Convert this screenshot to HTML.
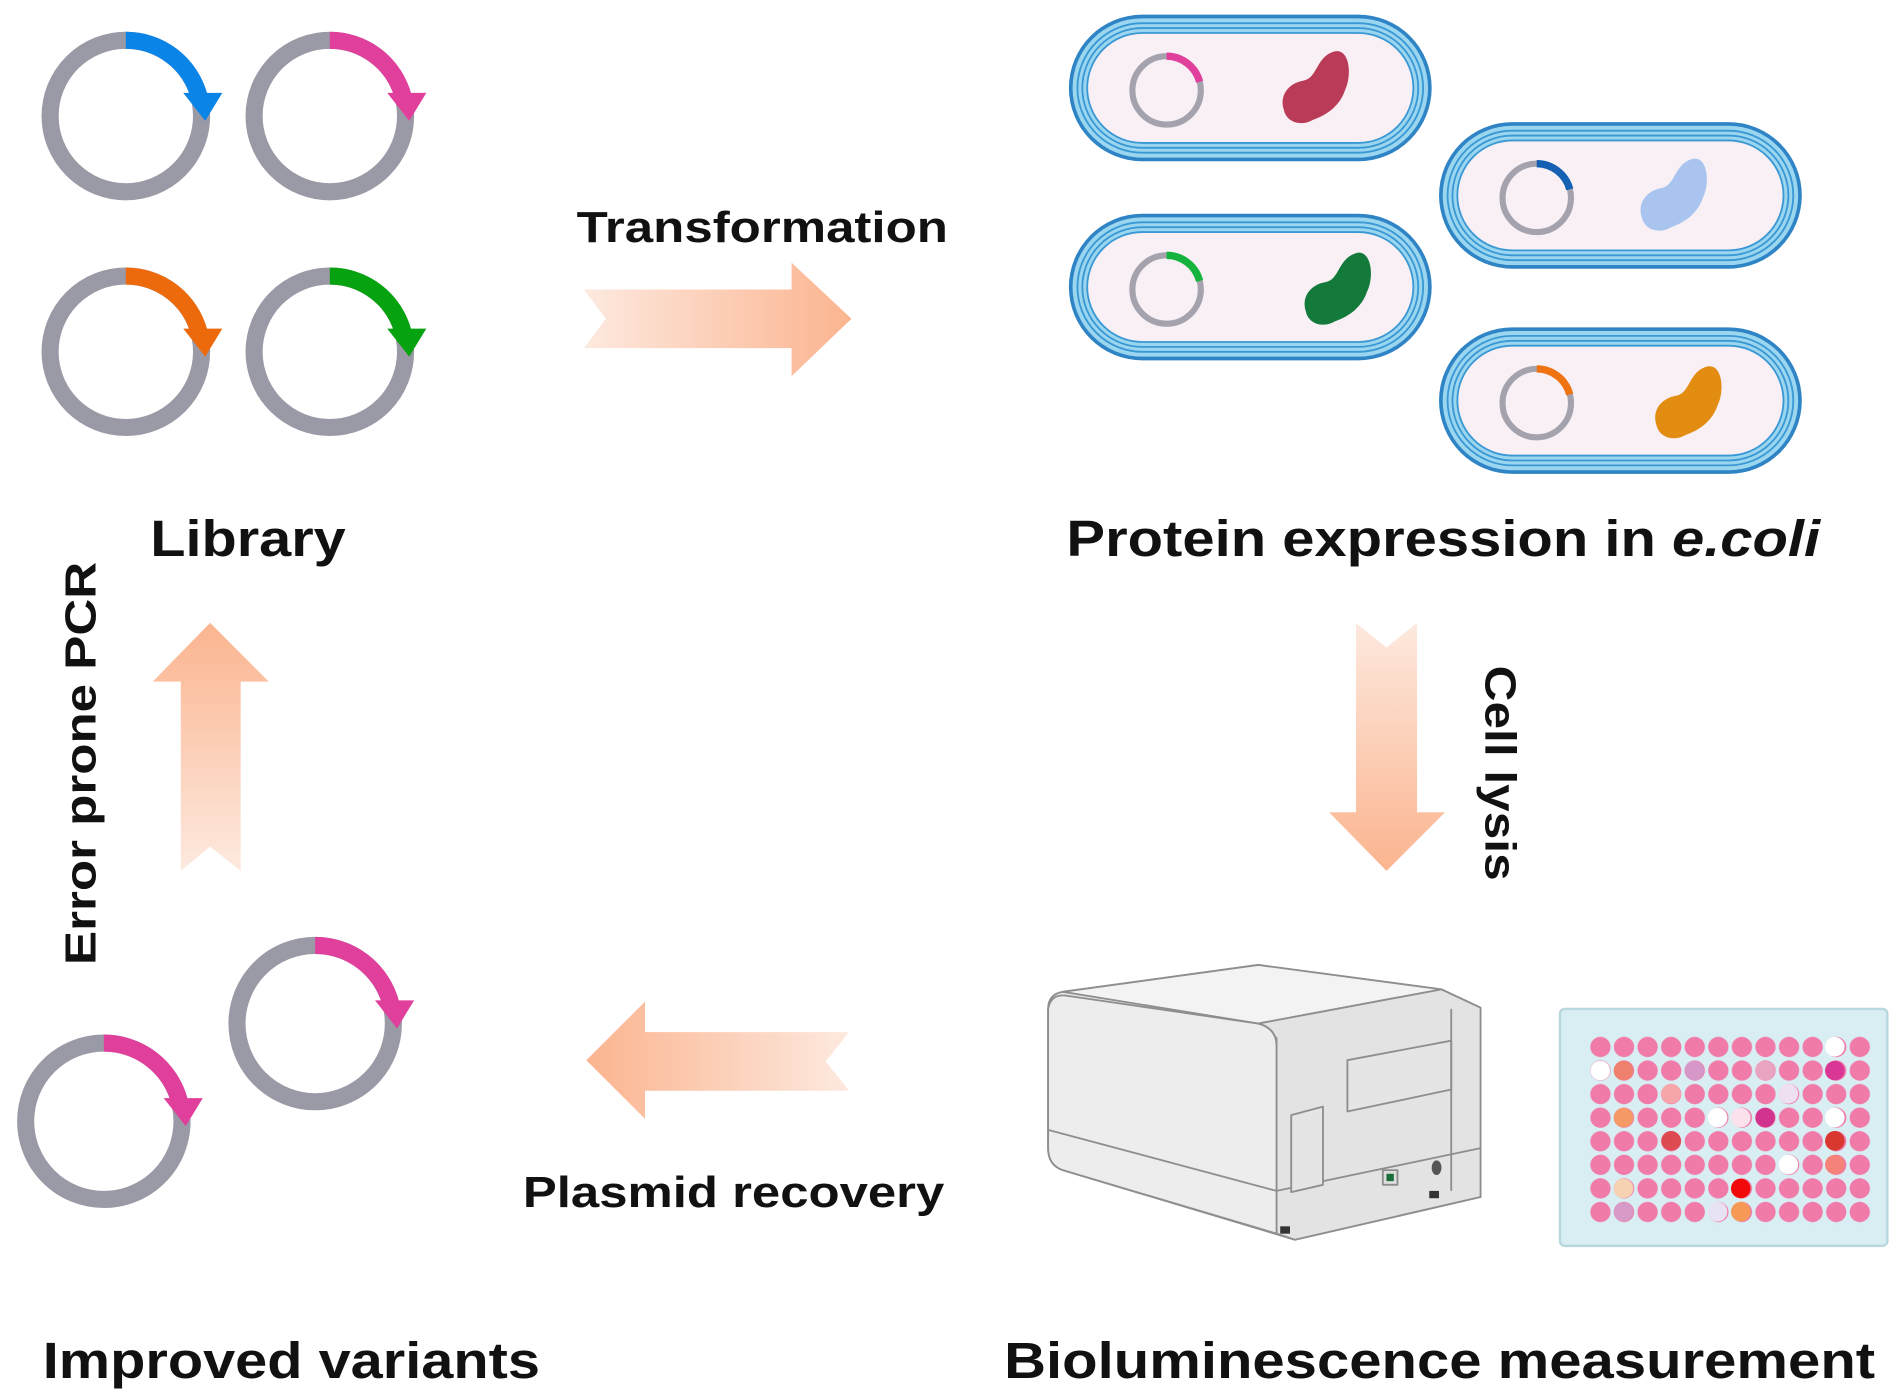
<!DOCTYPE html>
<html><head><meta charset="utf-8"><style>
html,body{margin:0;padding:0;background:#fff;}
svg{display:block;}
text{font-family:"Liberation Sans",Arial,sans-serif;font-weight:bold;fill:#111;}
</style></head><body>
<svg width="1891" height="1390" viewBox="0 0 1548 1138" preserveAspectRatio="none" xmlns="http://www.w3.org/2000/svg">
<defs>
<linearGradient id="gR" x1="0" x2="1" y1="0" y2="0"><stop offset="0" stop-color="#fde9df"/><stop offset="1" stop-color="#fbb48f"/></linearGradient>
<linearGradient id="gL" x1="1" x2="0" y1="0" y2="0"><stop offset="0" stop-color="#fde9df"/><stop offset="1" stop-color="#fbb48f"/></linearGradient>
<linearGradient id="gD" x1="0" x2="0" y1="0" y2="1"><stop offset="0" stop-color="#fde9df"/><stop offset="1" stop-color="#fbb48f"/></linearGradient>
<linearGradient id="gU" x1="0" x2="0" y1="1" y2="0"><stop offset="0" stop-color="#fde9df"/><stop offset="1" stop-color="#fbb48f"/></linearGradient>
<pattern id="wells" x="1300.5" y="847.5" width="19.3" height="19.3" patternUnits="userSpaceOnUse">
<circle cx="9.65" cy="9.65" r="8.3" fill="#f07aa8"/></pattern>
<g id="cell">
<rect x="0" y="0" width="297" height="120" rx="60" fill="#2f84c6"/>
<rect x="3" y="3" width="291" height="114" rx="57" fill="#9ad6ef"/>
<rect x="7" y="7" width="283" height="106" rx="53" fill="none" stroke="#3a98d4" stroke-width="1.5"/>
<rect x="11" y="11" width="275" height="98" rx="49" fill="none" stroke="#3a98d4" stroke-width="1.5"/>
<rect x="15" y="15" width="267" height="90" rx="45" fill="#f8f0f5" stroke="#3a98d4" stroke-width="1.5"/>
<circle cx="80" cy="62" r="28" fill="none" stroke="#a3a2ad" stroke-width="5"/>
</g>
<path id="blob" d="M28,-30 C40,-32 42,-10 36,2 C32,14 22,22 10,26 C0,32 -12,28 -14,18 C-18,6 -10,-4 2,-6 C14,-8 12,-26 28,-30 Z"/>
</defs>

<!-- Library plasmids -->
<g fill="none" stroke-width="14">
<circle cx="103" cy="95" r="62" stroke="#9a99a6"/>
<path d="M103,33 A62,62 0 0 1 163,79" stroke="#0b84e8"/>
<circle cx="270" cy="95" r="62" stroke="#9a99a6"/>
<path d="M270,33 A62,62 0 0 1 330,79" stroke="#e03f9c"/>
<circle cx="103" cy="288" r="62" stroke="#9a99a6"/>
<path d="M103,226 A62,62 0 0 1 163,272" stroke="#ec6a0c"/>
<circle cx="270" cy="288" r="62" stroke="#9a99a6"/>
<path d="M270,226 A62,62 0 0 1 330,272" stroke="#07a20f"/>
<circle cx="85" cy="918" r="64" stroke="#9a99a6"/>
<path d="M85,854 A64,64 0 0 1 147,902" stroke="#e03f9c"/>
<circle cx="258" cy="838" r="64" stroke="#9a99a6"/>
<path d="M258,774 A64,64 0 0 1 320,822" stroke="#e03f9c"/>
</g>
<polygon points="150,76 182,76 168,99" fill="#0b84e8"/>
<polygon points="317,76 349,76 335,99" fill="#e03f9c"/>
<polygon points="150,269 182,269 168,292" fill="#ec6a0c"/>
<polygon points="317,269 349,269 335,292" fill="#07a20f"/>
<polygon points="134,899 166,899 152,922" fill="#e03f9c"/>
<polygon points="307,819 339,819 325,842" fill="#e03f9c"/>

<!-- Cells -->
<g transform="translate(875,12)"><use href="#cell"/>
<path d="M80,34 A28,28 0 0 1 107,55" fill="none" stroke="#e03f9c" stroke-width="6"/>
<use href="#blob" transform="translate(190,60)" fill="#b93b57"/></g>
<g transform="translate(875,175)"><use href="#cell"/>
<path d="M80,34 A28,28 0 0 1 107,55" fill="none" stroke="#15b33e" stroke-width="6"/>
<use href="#blob" transform="translate(208,62)" fill="#137a3c"/></g>
<g transform="translate(1178,100)"><use href="#cell"/>
<path d="M80,34 A28,28 0 0 1 107,55" fill="none" stroke="#1560b2" stroke-width="6"/>
<use href="#blob" transform="translate(180,60)" fill="#a9c4ef"/></g>
<g transform="translate(1178,268)"><use href="#cell"/>
<path d="M80,34 A28,28 0 0 1 107,55" fill="none" stroke="#f07312" stroke-width="6"/>
<use href="#blob" transform="translate(192,62)" fill="#e28c12"/></g>

<!-- Arrows -->
<polygon points="478,237 648,237 648,215 697,261 648,308 648,285 478,285 496,261" fill="url(#gR)"/>
<polygon points="1110,510 1135,530 1160,510 1160,665 1183,665 1135,713 1088,665 1110,665" fill="url(#gD)"/>
<polygon points="695,845 528,845 528,820 480,868 528,916 528,893 695,893 676,869" fill="url(#gL)"/>
<polygon points="148,713 172,693 197,713 197,558 220,558 172,510 125,558 148,558" fill="url(#gU)"/>

<!-- Plate reader machine -->
<g stroke="#8e8e8e" stroke-width="1.5" stroke-linejoin="round">
<path d="M870,812 L1030,790 L1180,810 L1212,825 L1212,980 L1060,1015 L870,958 Q858,954 858,940 L858,826 Q858,814 870,812 Z" fill="#ededed"/>
<path d="M870,812 L1030,790 L1180,810 L1030,838 Q1030,838 1030,838 Z" fill="#f4f3f3"/>
<path d="M1030,838 L1180,810 L1212,825 L1212,980 L1060,1015 L1045,1010 L1045,850 Z" fill="#e4e3e3"/>
<path d="M858,826 Q860,814 872,815 L1030,838 Q1045,842 1045,856 L1045,1010 L870,958 Q858,954 858,940 Z" fill="#eeeded"/>
<path d="M858,925 L1045,975" fill="none"/>
<path d="M1045,975 L1212,940" fill="none"/>
<path d="M1103,868 L1188,852 L1188,892 L1103,910 Z" fill="#e6e5e5"/>
<path d="M1057,913 L1083,906 L1083,970 L1057,976 Z" fill="#e6e5e5"/>
<path d="M1188,826 L1188,975" fill="none"/>
<rect x="1132" y="958" width="12" height="12" fill="#ddd"/>
</g>
<rect x="1135" y="961" width="6" height="6" fill="#1a6e3a"/>
<ellipse cx="1176" cy="956" rx="4" ry="6" fill="#555"/>
<rect x="1048" y="1004" width="8" height="6" fill="#333"/>
<rect x="1170" y="975" width="8" height="6" fill="#333"/>

<!-- Plate -->
<rect x="1277" y="826" width="268" height="194" rx="4" fill="#d9eef2" stroke="#b8d7de" stroke-width="2"/>
<rect x="1300" y="847" width="233" height="156" fill="url(#wells)"/>
<g stroke="none">
<circle cx="1310" cy="876.5" r="8" fill="#fff"/>
<circle cx="1329" cy="876.5" r="8" fill="#f0806e"/>
<circle cx="1502" cy="857" r="8" fill="#fff"/>
<circle cx="1502" cy="876.5" r="8" fill="#d93696"/>
<circle cx="1445" cy="876.5" r="8" fill="#e9a4c2"/>
<circle cx="1387" cy="876.5" r="8" fill="#d598c8"/>
<circle cx="1368" cy="895.5" r="8" fill="#f6a6a8"/>
<circle cx="1464" cy="895.5" r="8" fill="#eee0f0"/>
<circle cx="1329" cy="915" r="8" fill="#f59a66"/>
<circle cx="1406" cy="915" r="8" fill="#fff"/>
<circle cx="1425" cy="915" r="8" fill="#fbe1ec"/>
<circle cx="1445" cy="915" r="8" fill="#d2338f"/>
<circle cx="1502" cy="915" r="8" fill="#fff"/>
<circle cx="1368" cy="934" r="8" fill="#dd4a50"/>
<circle cx="1502" cy="934" r="8" fill="#d83830"/>
<circle cx="1464" cy="953.5" r="8" fill="#fff"/>
<circle cx="1502" cy="953.5" r="8" fill="#f5837a"/>
<circle cx="1329" cy="973" r="8" fill="#f7d2b2"/>
<circle cx="1425" cy="973" r="8" fill="#f00a0a"/>
<circle cx="1329" cy="992" r="8" fill="#d79ac6"/>
<circle cx="1406" cy="992" r="8" fill="#e8e2f4"/>
<circle cx="1425" cy="992" r="8" fill="#f79a58"/>
</g>

<!-- Labels -->
<text x="472" y="198" font-size="36" textLength="304" lengthAdjust="spacingAndGlyphs">Transformation</text>
<text x="123" y="455" font-size="42" textLength="160" lengthAdjust="spacingAndGlyphs">Library</text>
<text x="873" y="455" font-size="42" textLength="617" lengthAdjust="spacingAndGlyphs">Protein expression in <tspan font-style="italic">e.coli</tspan></text>
<text transform="translate(78,790) rotate(-90)" font-size="36" textLength="330" lengthAdjust="spacingAndGlyphs">Error prone PCR</text>
<text transform="translate(1216,545) rotate(90)" font-size="36" textLength="176" lengthAdjust="spacingAndGlyphs">Cell lysis</text>
<text x="428" y="988" font-size="36" textLength="345" lengthAdjust="spacingAndGlyphs">Plasmid recovery</text>
<text x="35" y="1128" font-size="42" textLength="407" lengthAdjust="spacingAndGlyphs">Improved variants</text>
<text x="822" y="1128" font-size="42" textLength="713" lengthAdjust="spacingAndGlyphs">Bioluminescence measurement</text>
</svg>
</body></html>
